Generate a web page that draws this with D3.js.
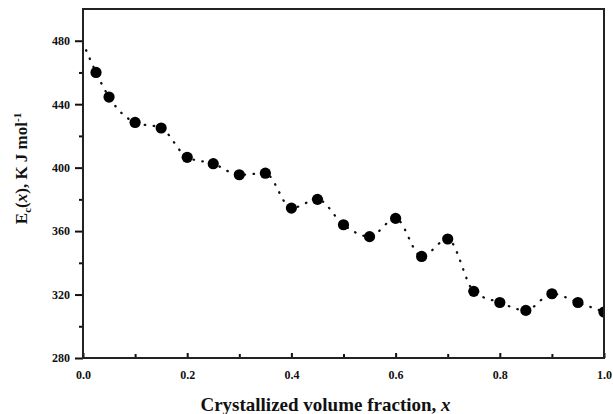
<!DOCTYPE html>
<html>
<head>
<meta charset="utf-8">
<script src="https://cdn.jsdelivr.net/npm/d3@7"></script>
<style>
  body { margin: 0; background: #fff; }
  text { font-family: "Liberation Serif", "Times New Roman", serif; font-weight: bold; fill: #111; }
</style>
</head>
<body>
<svg width="613" height="414"></svg>
<script>
// Data
var fractions = [0.025, 0.05, 0.10, 0.15, 0.20, 0.25, 0.30, 0.35, 0.40, 0.45, 0.50,
                 0.55, 0.60, 0.65, 0.70, 0.75, 0.80, 0.85, 0.90, 0.95, 1.00];
var energies = [460, 444.5, 428.5, 425, 406.5, 402.5, 395.5, 396.5, 374.5, 380, 364,
                356.5, 368, 344, 355, 322, 315, 310, 320.5, 315, 309];
// dotted guide starts a little left of the first point
var lineStart = [0.006, 474];
var xTicks = [0, 0.2, 0.4, 0.6, 0.8, 1.0];
var yTicks = [280, 320, 360, 400, 440, 480];

var svg = d3.select("svg");
var margin = { left: 83, top: 9, right: 9, bottom: 56 };
var width = 613 - margin.left - margin.right,
    height = 414 - margin.top - margin.bottom;

var x = d3.scaleLinear().domain([0, 1]).range([0, width]);
var y = d3.scaleLinear().domain([280, 500]).range([height, 0]);

var g = svg.append("g").attr("transform", "translate(" + margin.left + "," + margin.top + ")");

// clip so the last point sits behind the right frame
g.append("clipPath").attr("id", "clip")
  .append("rect").attr("width", width).attr("height", height);

var linePts = [lineStart].concat(fractions.map((f, i) => [f, energies[i]]));

var line = d3.line()
  .x((d) => x(d[0]))
  .y((d) => y(d[1]))
  .curve(d3.curveMonotoneX);

var plot = g.append("g").attr("clip-path", "url(#clip)");

plot.append("path")
  .datum(linePts)
  .attr("fill", "none")
  .attr("stroke", "#111")
  .attr("stroke-width", 2.3)
  .attr("stroke-linecap", "round")
  .attr("stroke-dasharray", "0.5,8.5")
  .attr("d", line);

plot.selectAll("circle")
  .data(fractions)
  .enter().append("circle")
  .attr("cx", (d) => x(d))
  .attr("cy", (d, i) => y(energies[i]))
  .attr("r", 5.6)
  .attr("fill", "#000");

// Axes
var xMinor = d3.axisBottom(x).tickValues(d3.range(0.1, 1, 0.2)).tickSize(-4).tickFormat("");
var xAxis = d3.axisBottom(x).tickValues(xTicks).tickSize(-5).tickPadding(12).tickFormat(d3.format(".1f"));
var yMinor = d3.axisLeft(y).tickValues(d3.range(300, 500, 40)).tickSize(4).tickFormat("");
var yAxis = d3.axisLeft(y).tickValues(yTicks).tickSize(8).tickPadding(5);

function styleAxis(sel) {
  sel.select(".domain").remove();
  sel.selectAll("line").attr("stroke", "#111").attr("stroke-width", 2);
  sel.selectAll("text").style("font-size", "12px").attr("fill", "#111");
}

g.append("g").attr("transform", "translate(0," + height + ")").call(xMinor).call(styleAxis);
g.append("g").attr("transform", "translate(0," + height + ")").call(xAxis).call(styleAxis);
g.append("g").call(yMinor).call(styleAxis);
g.append("g").call(yAxis).call(styleAxis);

// frame
g.append("rect")
  .attr("width", width).attr("height", height)
  .attr("fill", "none").attr("stroke", "#222").attr("stroke-width", 2);

// Axis titles
var xt = svg.append("text")
  .attr("x", margin.left + width / 2 - 18)
  .attr("y", 411)
  .attr("text-anchor", "middle")
  .style("font-size", "19px");
xt.append("tspan").text("Crystallized volume fraction, ");
xt.append("tspan").style("font-style", "italic").text("x");

var yt = svg.append("text")
  .attr("transform", "translate(27," + (margin.top + height / 2 - 15) + ") rotate(-90)")
  .attr("text-anchor", "middle")
  .style("font-size", "17px");
yt.append("tspan").text("E");
yt.append("tspan").attr("dy", 4).style("font-size", "11px").text("c");
yt.append("tspan").attr("dy", -4).text("(");
yt.append("tspan").style("font-style", "italic").text("x");
yt.append("tspan").text("), K J mol");
yt.append("tspan").attr("dy", -6).style("font-size", "11px").text("-1");
</script>
</body>
</html>
